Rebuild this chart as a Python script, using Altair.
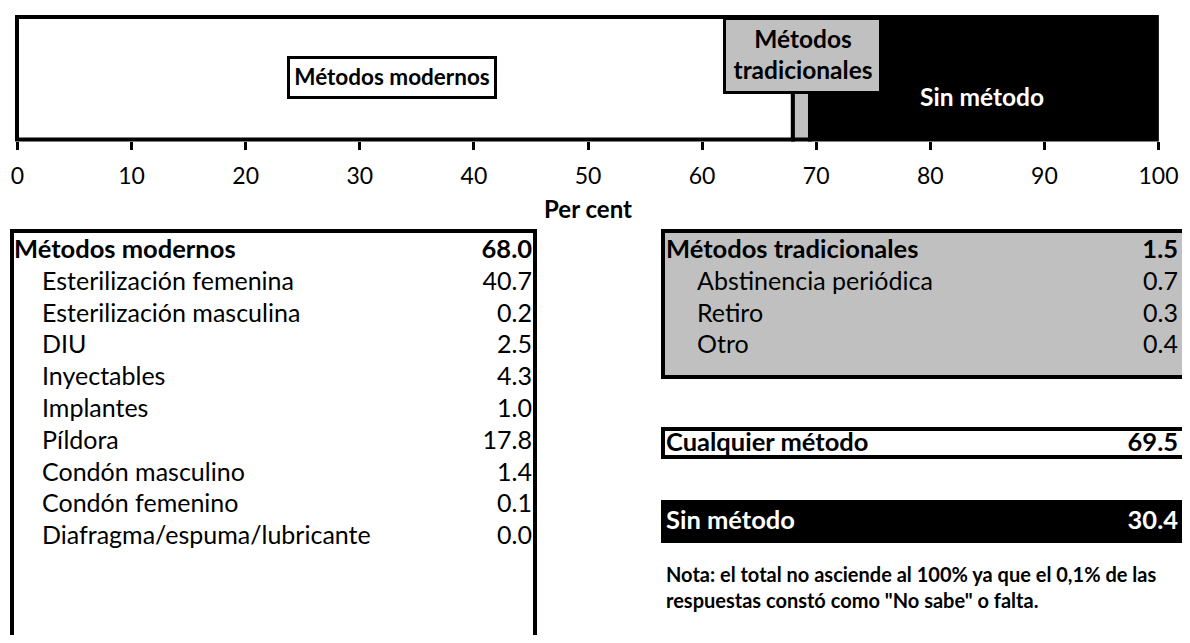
import altair as alt
import pandas as pd

# ---------------- data ----------------
seg_names = ["Métodos modernos", "Métodos tradicionales", "Sin método"]
seg_values = [68.0, 1.5, 30.4]
seg_colors = ["#FFFFFF", "#C0C0C0", "#000000"]
seg_order = [0, 1, 2]

tick_values = [0, 10, 20, 30, 40, 50, 60, 70, 80, 90, 100]

modern_labels = ["Métodos modernos", "Esterilización femenina", "Esterilización masculina",
                 "DIU", "Inyectables", "Implantes", "Píldora", "Condón masculino",
                 "Condón femenino", "Diafragma/espuma/lubricante"]
modern_values = [68.0, 40.7, 0.2, 2.5, 4.3, 1.0, 17.8, 1.4, 0.1, 0.0]

trad_labels = ["Métodos tradicionales", "Abstinencia periódica", "Retiro", "Otro"]
trad_values = [1.5, 0.7, 0.3, 0.4]

any_label = ["Cualquier método"]
any_value = [69.5]
none_label = ["Sin método"]
none_value = [30.4]

note_text = "Nota: el total no asciende al 100% ya que el 0,1% de las\nrespuestas constó como \"No sabe\" o falta."

FONT = "Lato"
W, H = 1174, 627

# ---------------- frames ----------------
seg_df = pd.DataFrame({"name": seg_names, "value": seg_values,
                       "color": seg_colors, "order": seg_order})
modern_df = pd.DataFrame({"label": modern_labels, "value": modern_values,
                          "row": list(range(len(modern_labels)))})
trad_df = pd.DataFrame({"label": trad_labels, "value": trad_values,
                        "row": list(range(len(trad_labels)))})
any_df = pd.DataFrame({"label": any_label, "value": any_value})
none_df = pd.DataFrame({"label": none_label, "value": none_value})
one = pd.DataFrame({"k": [0]})

xscale = alt.Scale(domain=[0, 100], range=[9, 1150], nice=False, zero=False)
yscale = alt.Scale(domain=[0, 9], range=[242, 528.2], nice=False, zero=False)

# ---------------- top stacked bar ----------------
bars = alt.Chart(seg_df).transform_window(
    cum="sum(value)", sort=[alt.SortField("order")], frame=[None, 0]
).transform_calculate(start="datum.cum - datum.value").mark_rect(
    stroke="black", strokeWidth=4
).encode(
    x=alt.X("start:Q", scale=xscale,
            axis=alt.Axis(values=tick_values, domain=False, grid=False,
                          tickSize=8, tickWidth=3, tickColor="black",
                          labelFont=FONT, labelFontSize=23, labelColor="black",
                          labelPadding=16, labelFlush=False, format="d",
                          title="Per cent", titleFont=FONT, titleFontSize=24,
                          titleFontWeight="bold", titleColor="black",
                          titlePadding=10, offset=-493.5)),
    x2="cum:Q",
    y=alt.value(9), y2=alt.value(131.5),
    fill=alt.Fill("color:N", scale=None, legend=None),
)


def box(x, x2, y, y2, fill, sw=3, clip=False):
    return alt.Chart(one).mark_rect(fill=fill, stroke="black", strokeWidth=sw, clip=clip).encode(
        x=alt.value(x), x2=alt.value(x2), y=alt.value(y), y2=alt.value(y2))


def label(txt, x, y, size, color="black", weight="bold", align="center", **kw):
    return alt.Chart(one).mark_text(font=FONT, fontSize=size, fontWeight=weight,
                                    color=color, align=align, baseline="middle", **kw).encode(
        x=alt.value(x), y=alt.value(y), text=alt.value(txt))


lab_modern_box = box(280.5, 487.5, 49.5, 89.5, "white")
lab_modern = label(seg_names[0], 384, 70, 22.5)
lab_trad_box = box(716.5, 872.5, 10.5, 84.5, "#C0C0C0")
lab_trad = label("Métodos\ntradicionales", 795, 33, 24.5, lineBreak="\n", lineHeight=31)
lab_none = label(seg_names[2], 974, 91, 24.5, color="white")

# ---------------- tables ----------------
left_box = box(4, 527, 223, 700, "white", sw=4, clip=True)
trad_box = box(655, 1200, 223, 369, "#C0C0C0", sw=4, clip=True)
any_box = box(655, 1200, 421, 449, "white", sw=4, clip=True)
none_box = box(655, 1200, 494, 533, "black", sw=4, clip=True)

HEAD_FS = 25.5
SUB_FS = 25


def table(df, x_head, x_sub, x_val):
    base = alt.Chart(df)
    y = alt.Y("row:Q", scale=yscale, axis=None)
    head = base.transform_filter("datum.row == 0").mark_text(
        font=FONT, fontSize=HEAD_FS, fontWeight="bold", align="left", baseline="middle", color="black"
    ).encode(x=alt.value(x_head), y=y, text="label:N")
    subs = base.transform_filter("datum.row > 0").mark_text(
        font=FONT, fontSize=SUB_FS, align="left", baseline="middle", color="black"
    ).encode(x=alt.value(x_sub), y=y, text="label:N")
    hval = base.transform_filter("datum.row == 0").mark_text(
        font=FONT, fontSize=HEAD_FS, fontWeight="bold", align="right", baseline="middle", color="black"
    ).encode(x=alt.value(x_val), y=y, text=alt.Text("value:Q", format=".1f"))
    svals = base.transform_filter("datum.row > 0").mark_text(
        font=FONT, fontSize=SUB_FS, align="right", baseline="middle", color="black"
    ).encode(x=alt.value(x_val), y=y, text=alt.Text("value:Q", format=".1f"))
    return [head, subs, hval, svals]


def single(df, y, color):
    base = alt.Chart(df)
    t = base.mark_text(font=FONT, fontSize=HEAD_FS, fontWeight="bold", align="left",
                       baseline="middle", color=color).encode(
        x=alt.value(658), y=alt.value(y), text="label:N")
    v = base.mark_text(font=FONT, fontSize=HEAD_FS, fontWeight="bold", align="right",
                       baseline="middle", color=color).encode(
        x=alt.value(1170), y=alt.value(y), text=alt.Text("value:Q", format=".1f"))
    return [t, v]


note = label(note_text, 658, 568, 20, align="left", lineBreak="\n", lineHeight=26)

layers = [bars, lab_modern_box, lab_modern, lab_trad_box, lab_trad, lab_none,
          left_box, trad_box, any_box, none_box]
layers += table(modern_df, 6, 34, 524)
layers += table(trad_df, 658, 689, 1170)
layers += single(any_df, 435, "black")
layers += single(none_df, 513, "white")
layers += [note]

chart = alt.layer(*layers).properties(
    width=W, height=H, padding=0, background="white",
    autosize=alt.AutoSizeParams(type="none"),
).configure_view(stroke=None, strokeWidth=0)

chart.save("out.html", embed_options={"renderer": "svg", "actions": False})
